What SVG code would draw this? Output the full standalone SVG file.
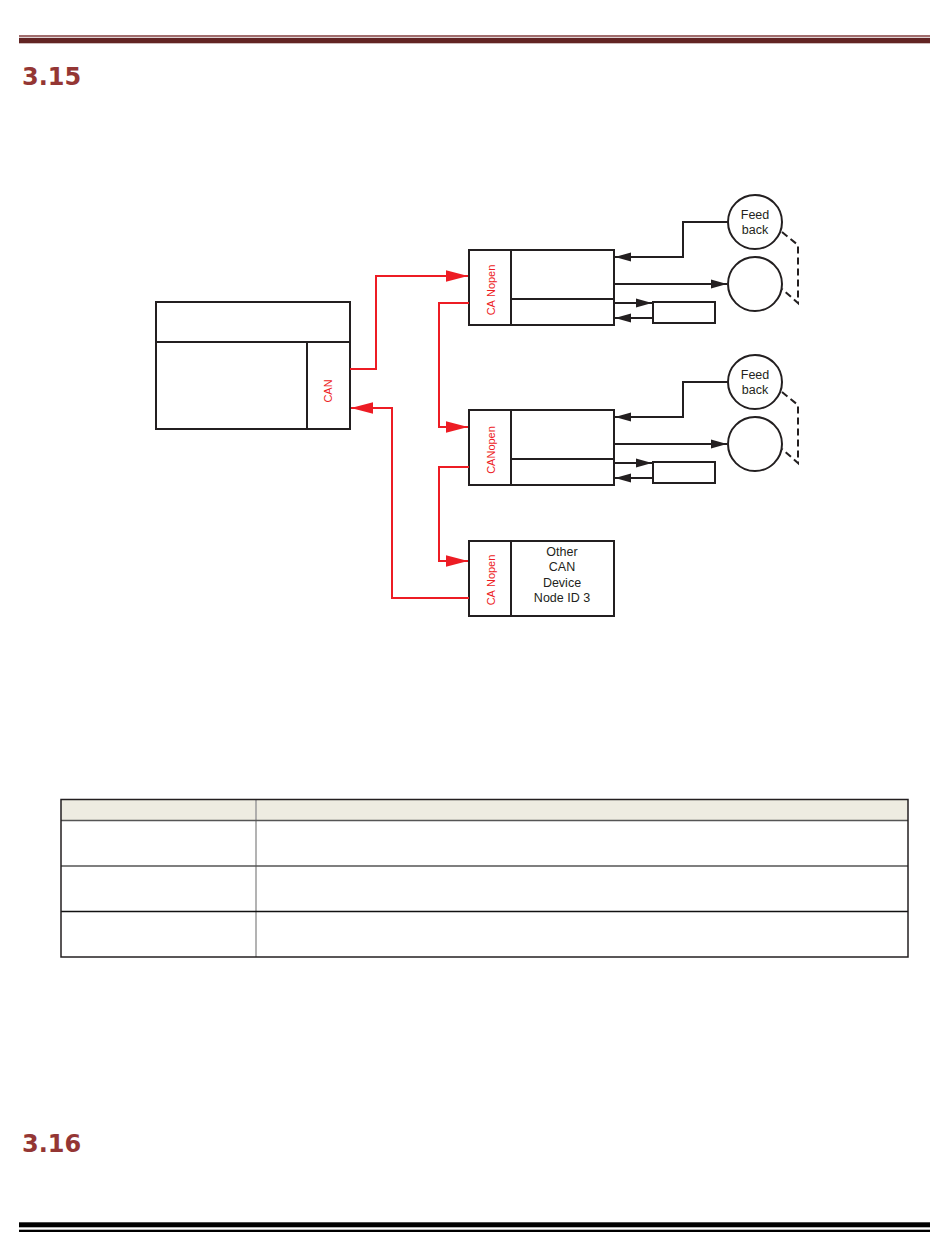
<svg xmlns="http://www.w3.org/2000/svg" width="950" height="1260" viewBox="0 0 950 1260">
<style>
.box{fill:#fff;stroke:#231f20;stroke-width:2}
.ln{stroke:#231f20;stroke-width:2;fill:none}
.blk{stroke:#231f20;stroke-width:2;fill:none;marker-end:url(#ab)}
.red{stroke:#ed1c24;stroke-width:2;fill:none;marker-end:url(#ar)}
.dash{stroke:#231f20;stroke-width:2;fill:none;stroke-dasharray:7 4}
.t{font-family:"Liberation Sans",Arial,sans-serif;font-size:12.5px;fill:#231f20;text-anchor:middle}
.rt{font-family:"Liberation Sans",Arial,sans-serif;font-size:11px;fill:#ed1c24;text-anchor:middle}
.h{font-family:"DejaVu Sans",Verdana,sans-serif;font-size:24px;font-weight:bold;fill:#943634}
.tb{fill:none;stroke:#231f20;stroke-width:1.5}
.tg{stroke:#9a9a9a;stroke-width:1.5}
</style>
<defs>
<marker id="ab" markerUnits="userSpaceOnUse" markerWidth="16" markerHeight="10" viewBox="0 0 14 8" refX="14" refY="4" orient="auto"><path d="M0,0 L14,4 L0,8 Z" fill="#231f20"/></marker>
<marker id="ar" markerUnits="userSpaceOnUse" markerWidth="22" markerHeight="12" viewBox="0 0 21 11" refX="21" refY="5.5" orient="auto"><path d="M0,0 L21,5.5 L0,11 Z" fill="#ed1c24"/></marker>
</defs>
<rect width="950" height="1260" fill="#fff"/>
<g id="header">
<rect x="19" y="35.3" width="911" height="1.4" fill="#7a3030"/>
<rect x="19" y="37.8" width="911" height="5.5" fill="#622423"/>
<text class="h" x="22" y="85">3.15</text>
</g>
<g id="controller">
<rect class="box" x="156" y="302" width="194" height="127"/>
<line class="ln" x1="156" y1="342" x2="350" y2="342"/>
<line class="ln" x1="307" y1="342" x2="307" y2="429"/>
<text class="rt" x="0" y="0" font-size="12" transform="translate(332,391) rotate(-90)">CAN</text>
</g>
<g id="drive1">
<rect class="box" x="469" y="250" width="145" height="75"/>
<line class="ln" x1="511" y1="250" x2="511" y2="325"/>
<line class="ln" x1="511" y1="299" x2="614" y2="299"/>
<text class="rt" transform="translate(495,290) rotate(-90)">CA<tspan dx="3">Nopen</tspan></text>
</g>
<g id="feedback1">
<circle class="box" cx="755" cy="222" r="27"/>
<text class="t" x="755" y="219">Feed</text>
<text class="t" x="755" y="234">back</text>
</g>
<g id="motor1"><circle class="box" cx="755" cy="284" r="27"/></g>
<g id="io1"><rect class="box" x="653" y="302" width="62" height="21"/></g>
<g id="drive2">
<rect class="box" x="469" y="410" width="145" height="75"/>
<line class="ln" x1="511" y1="410" x2="511" y2="485"/>
<line class="ln" x1="511" y1="459" x2="614" y2="459"/>
<text class="rt" transform="translate(495,450) rotate(-90)">CANopen</text>
</g>
<g id="feedback2">
<circle class="box" cx="755" cy="382" r="27"/>
<text class="t" x="755" y="379">Feed</text>
<text class="t" x="755" y="394">back</text>
</g>
<g id="motor2"><circle class="box" cx="755" cy="444" r="27"/></g>
<g id="io2"><rect class="box" x="653" y="462" width="62" height="21"/></g>
<g id="device3">
<rect class="box" x="469" y="541" width="145" height="75"/>
<line class="ln" x1="511" y1="541" x2="511" y2="616"/>
<text class="rt" transform="translate(495,580) rotate(-90)">CA<tspan dx="3">Nopen</tspan></text>
<text class="t" x="562" y="556">Other</text>
<text class="t" x="562" y="571">CAN</text>
<text class="t" x="562" y="587">Device</text>
<text class="t" x="562" y="602">Node ID 3</text>
</g>
<g id="connectors">
<path class="red" d="M350,369 H376 V276 H468"/>
<path class="red" d="M469,303 H439 V427 H468"/>
<path class="red" d="M469,467 H439 V561 H468"/>
<path class="red" d="M469,598 H392 V408 H351"/>
<path class="blk" d="M728,222 H683 V257 H615"/>
<path class="blk" d="M614,284 H727"/>
<path class="blk" d="M614,303 H652"/>
<path class="blk" d="M653,318 H615"/>
<path class="dash" d="M782,232 L798,245 V303 L782,289"/>
<path class="blk" d="M728,382 H683 V417 H615"/>
<path class="blk" d="M614,444 H727"/>
<path class="blk" d="M614,463 H652"/>
<path class="blk" d="M653,478 H615"/>
<path class="dash" d="M782,392 L798,405 V463 L782,449"/>
</g>
<g id="table">
<rect x="61" y="799.5" width="847" height="21" fill="#eeece1"/>
<line class="tg" x1="256" y1="799.5" x2="256" y2="957"/>
<line x1="61" y1="820.5" x2="908" y2="820.5" stroke="#555" stroke-width="1.5"/>
<line x1="61" y1="866" x2="908" y2="866" stroke="#555" stroke-width="1.5"/>
<line x1="61" y1="911.5" x2="908" y2="911.5" stroke="#111" stroke-width="1.5"/>
<rect class="tb" x="61" y="799.5" width="847" height="157.5"/>
</g>
<g id="footer">
<text class="h" x="22" y="1151.5">3.16</text>
<rect x="19" y="1222.3" width="911" height="5" fill="#000"/>
<rect x="19" y="1229.7" width="911" height="2.3" fill="#000"/>
</g>
</svg>
